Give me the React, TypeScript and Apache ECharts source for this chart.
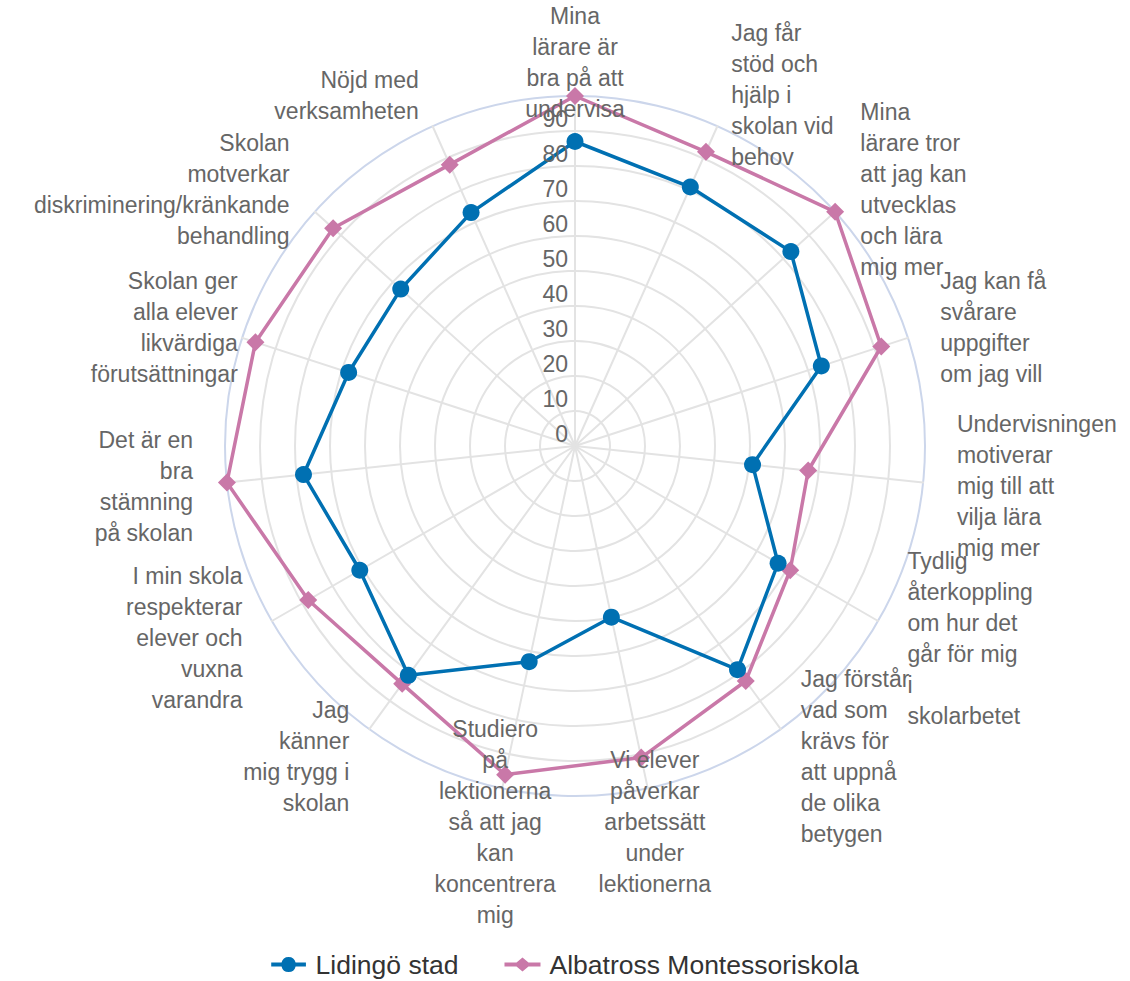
import React, { useEffect, useRef } from "react";
import * as echarts from "echarts";

// Indicators, listed clockwise from the top
const categories: string[] = [
  "Mina\nlärare är\nbra på att\nundervisa",
  "Jag får\nstöd och\nhjälp i\nskolan vid\nbehov",
  "Mina\nlärare tror\natt jag kan\nutvecklas\noch lära\nmig mer",
  "Jag kan få\nsvårare\nuppgifter\nom jag vill",
  "Undervisningen\nmotiverar\nmig till att\nvilja lära\nmig mer",
  "Tydlig\nåterkoppling\nom hur det\ngår för mig\ni\nskolarbetet",
  "Jag förstår\nvad som\nkrävs för\natt uppnå\nde olika\nbetygen",
  "Vi elever\npåverkar\narbetssätt\nunder\nlektionerna",
  "Studiero\npå\nlektionerna\nså att jag\nkan\nkoncentrera\nmig",
  "Jag\nkänner\nmig trygg i\nskolan",
  "I min skola\nrespekterar\nelever och\nvuxna\nvarandra",
  "Det är en\nbra\nstämning\npå skolan",
  "Skolan ger\nalla elever\nlikvärdiga\nförutsättningar",
  "Skolan\nmotverkar\ndiskriminering/kränkande\nbehandling",
  "Nöjd med\nverksamheten",
];

const seriesNames: string[] = ["Lidingö stad", "Albatross Montessoriskola"];
const lidingo: number[] = [87, 81, 83, 74, 51, 67, 79, 50, 63, 81, 71, 78, 68, 67, 73];
const albatross: number[] = [100, 92, 100, 92, 67, 71, 83, 91, 96, 84, 88, 100, 96, 93, 88];
const tickLabels: string[] = ["0", "10", "20", "30", "40", "50", "60", "70", "80", "90"];
const axisMax = 100;

// layout
const CX = 575;
const CY = 446;
const R = 350;
const LABEL_R = 384;
const labelShiftX: Record<number, number> = { 12: 28 };

const BLUE = "#0070b2";
const PINK = "#c978a8";
const GRID = "#e3e3e3";
const OUTER = "#ccd6eb";
const TEXT = "#666666";
const FONT = "'Liberation Sans', Arial, Helvetica, sans-serif";

// ECharts radar lays out counter-clockwise, so reverse everything after the first
const ccwOrder = (arr: any[]) => [arr[0], ...arr.slice(1).reverse()];

const circleIcon =
  "path://M0 5H10.7A7.5 7.5 0 0 1 25.3 5H36V9H25.3A7.5 7.5 0 0 1 10.7 9H0Z";
const diamondIcon =
  "path://M0 5H12L18 0L24 5H36V9H24L18 14L12 9H0Z";

export default function App() {
  const ref = useRef<HTMLDivElement>(null);

  useEffect(() => {
    if (!ref.current) return;
    const chart = echarts.init(ref.current, undefined, { renderer: "svg" });

    const nameTexts = categories.map((name, i) => {
      const phi = (i * 2 * Math.PI) / categories.length;
      const s = Math.sin(phi);
      const c = Math.cos(phi);
      const align = Math.abs(s) < 0.3 ? "center" : s > 0 ? "left" : "right";
      return {
        type: "text",
        x: CX + LABEL_R * s + (labelShiftX[i] || 0),
        y: CY - LABEL_R * c,
        z: 100,
        silent: true,
        style: {
          text: name,
          fill: TEXT,
          fontSize: 23,
          fontFamily: FONT,
          lineHeight: 31,
          align,
          verticalAlign: "middle",
        },
      };
    });

    const tickTexts = tickLabels.map((t) => ({
      type: "text",
      x: CX - 7,
      y: CY - (Number(t) / axisMax) * R - 12,
      z: 100,
      silent: true,
      style: {
        text: t,
        fill: TEXT,
        fontSize: 23,
        fontFamily: FONT,
        align: "right",
        verticalAlign: "middle",
      },
    }));

    const splitColors = Array.from({ length: 11 }, (_, i) => (i === 10 ? OUTER : GRID));

    chart.setOption({
      animation: false,
      textStyle: { fontFamily: FONT },
      legend: {
        top: 951,
        left: "center",
        itemWidth: 36,
        itemHeight: 15,
        itemGap: 46,
        padding: 0,
        textStyle: { fontSize: 26.5, color: "#333333", fontFamily: FONT, padding: [0, 0, 0, 4] },
        data: [
          { name: seriesNames[0], icon: circleIcon },
          { name: seriesNames[1], icon: diamondIcon },
        ],
      },
      radar: {
        center: [CX, CY],
        radius: R,
        startAngle: 90,
        shape: "circle",
        splitNumber: 10,
        indicator: ccwOrder(categories).map((n: string) => ({ name: n, min: 0, max: axisMax })),
        axisName: { show: false },
        axisLine: { lineStyle: { color: GRID, width: 2 } },
        splitLine: { lineStyle: { color: splitColors, width: 2 } },
        splitArea: { show: false },
        axisTick: { show: false },
        axisLabel: { show: false },
      },
      series: [
        {
          name: seriesNames[0],
          type: "radar",
          z: 3,
          symbol: "circle",
          symbolSize: 17,
          lineStyle: { color: BLUE, width: 3.5 },
          itemStyle: { color: BLUE },
          data: [{ name: seriesNames[0], value: ccwOrder(lidingo) }],
        },
        {
          name: seriesNames[1],
          type: "radar",
          z: 2,
          symbol: "diamond",
          symbolSize: 18,
          lineStyle: { color: PINK, width: 3.5 },
          itemStyle: { color: PINK },
          data: [{ name: seriesNames[1], value: ccwOrder(albatross) }],
        },
      ],
      graphic: [...nameTexts, ...tickTexts],
    });

    return () => chart.dispose();
  }, []);

  return (
    <div
      ref={ref}
      style={{ position: "fixed", left: 0, top: 0, width: 1130, height: 981, background: "#fff" }}
    />
  );
}
